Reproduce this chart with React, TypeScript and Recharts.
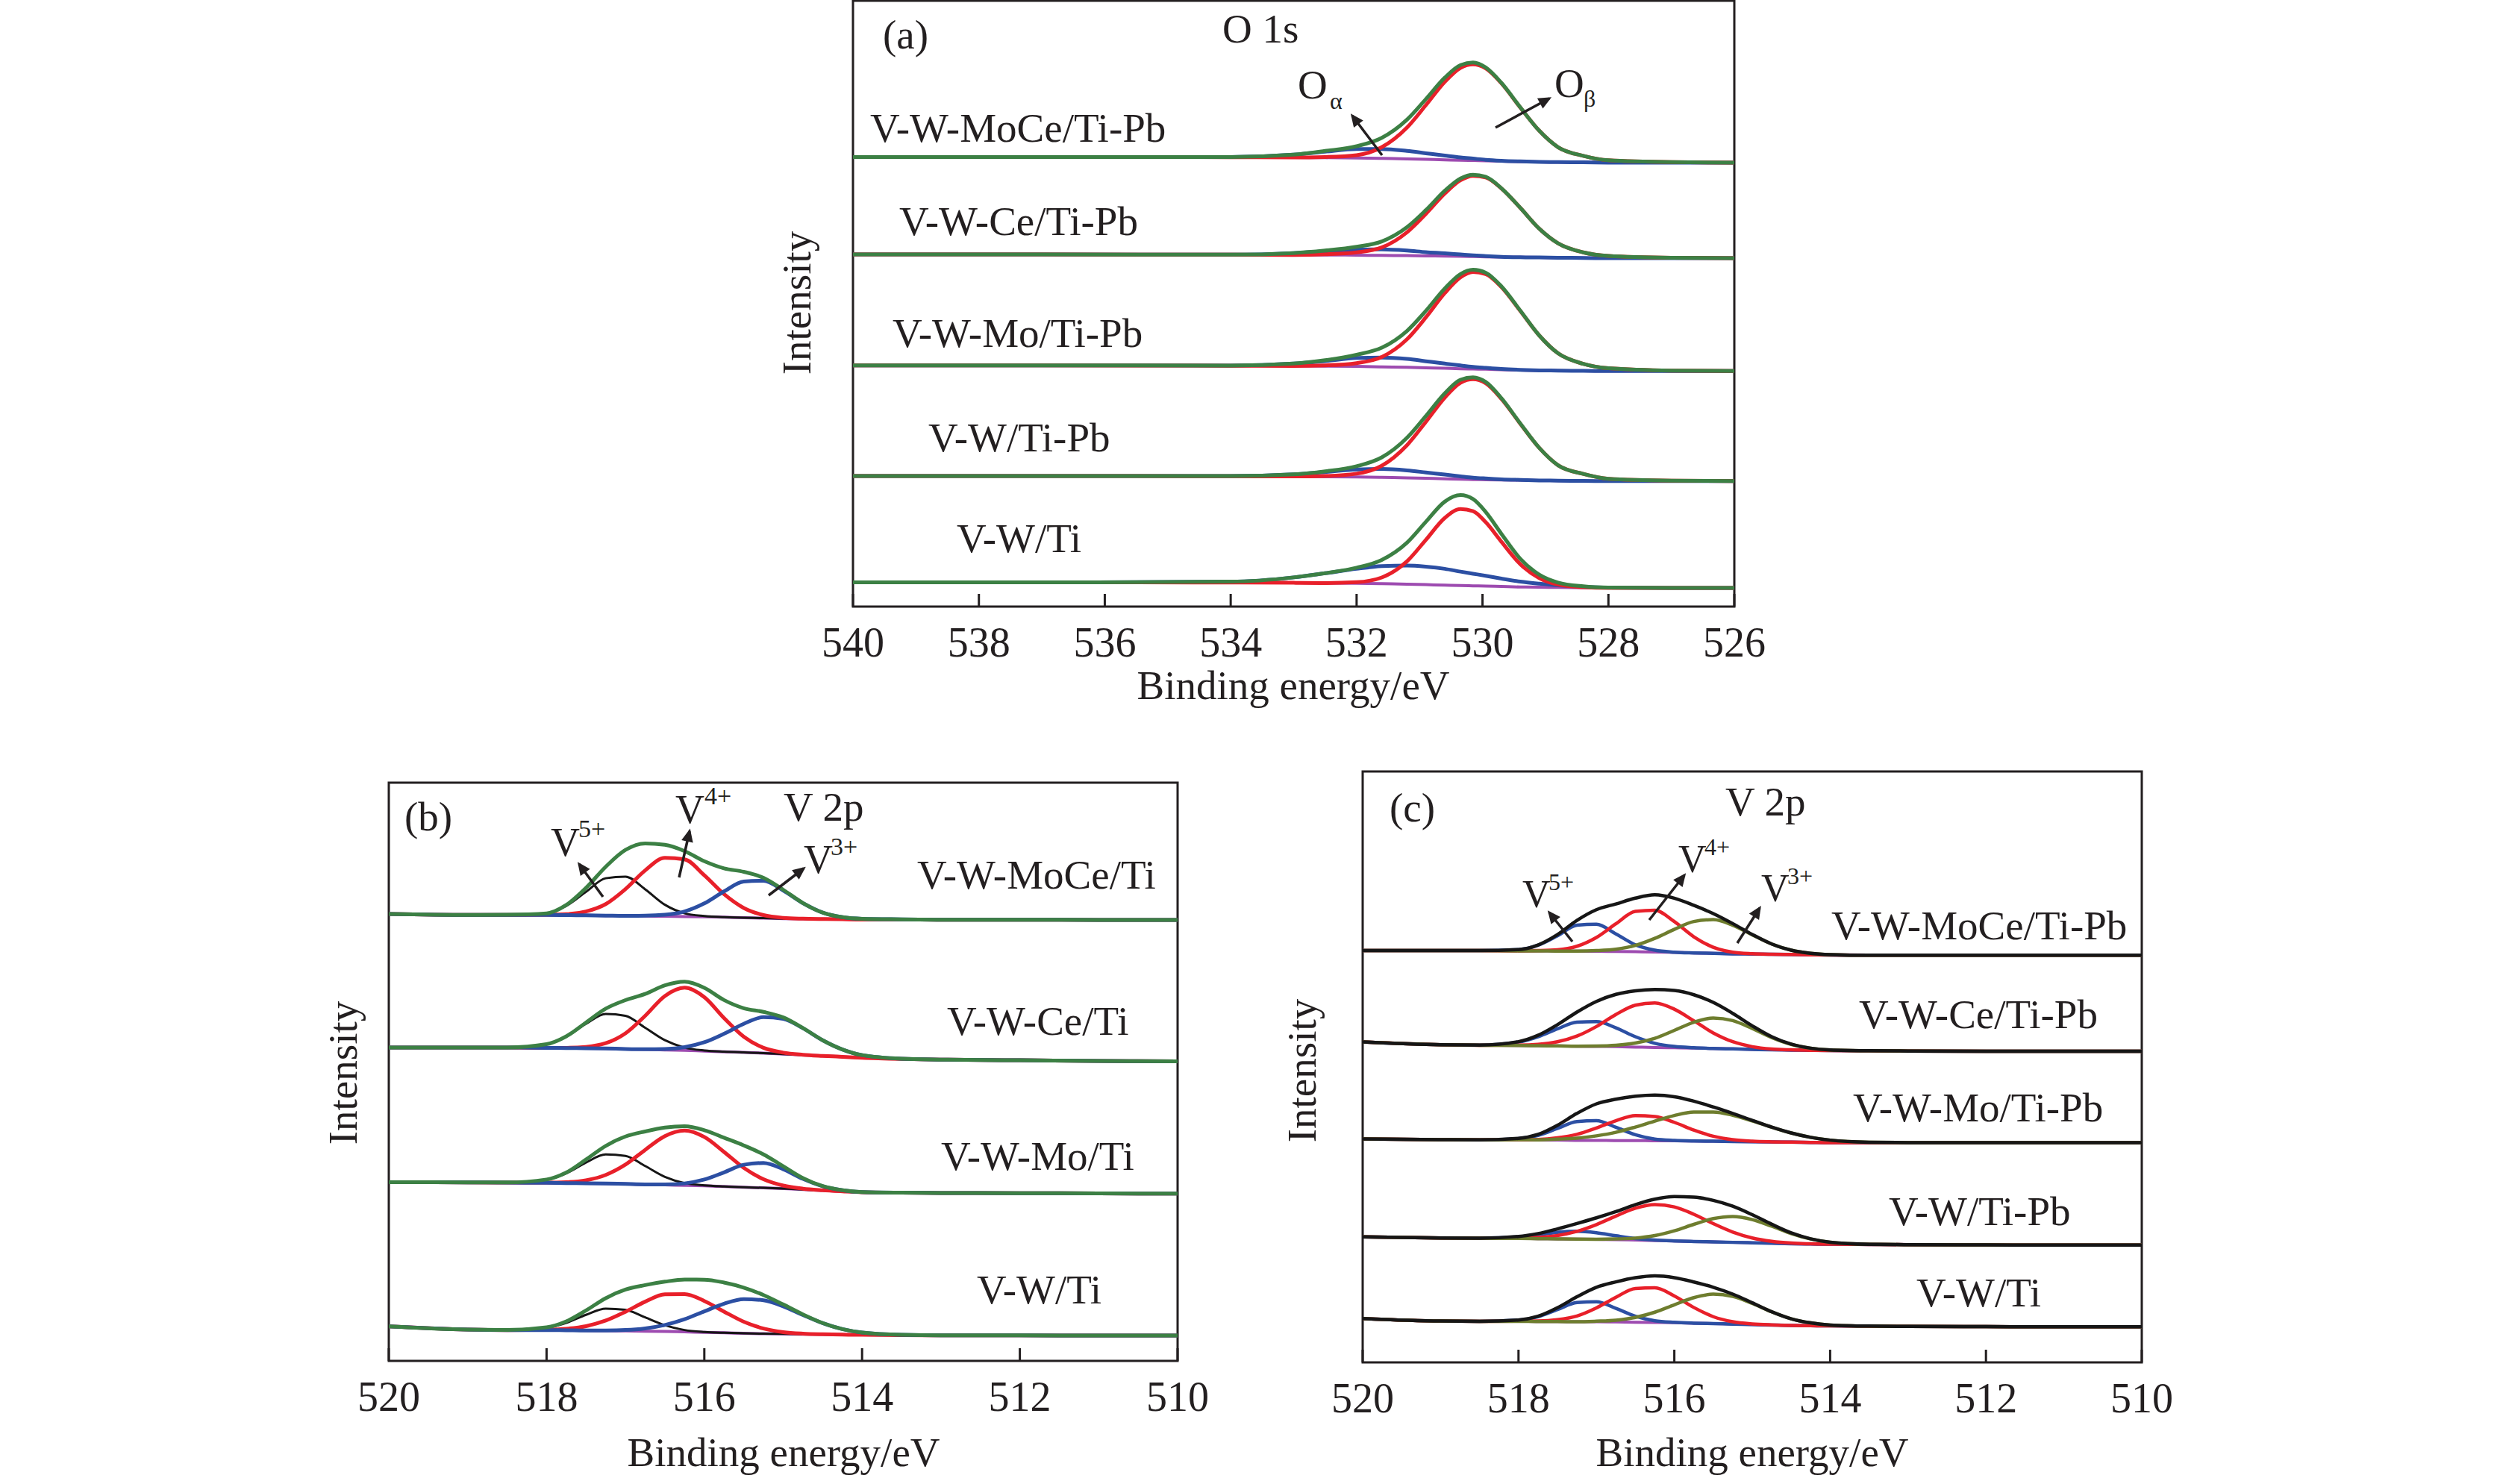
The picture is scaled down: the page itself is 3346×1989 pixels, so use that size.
import React from "react";
import { LineChart, Line, XAxis, YAxis, ReferenceArea } from "recharts";

const FONT = "'Liberation Serif', 'Times New Roman', serif";
const INK = "#231f20";
const GREEN = "#3c8044";
const RED = "#e8202a";
const BLUE = "#2c4fa3";
const PURPLE = "#9d4bb0";
const BLACK = "#161616";
const OLIVE = "#6e7d2e";

// binding energy grids (eV)
const energyO1s = [540, 537, 534, 533, 532.5, 532, 531.6, 531.2, 530.9, 530.6, 530.35, 530.15, 529.95, 529.7, 529.4, 529.1, 528.8, 528.4, 528, 527, 526];
const energyV2p = [520, 519, 518.5, 518, 517.75, 517.5, 517.25, 517, 516.75, 516.5, 516.25, 516, 515.75, 515.5, 515.25, 515, 514.75, 514.5, 514.25, 514, 513.5, 513, 512, 511, 510];

const ticksO1s = [540, 538, 536, 534, 532, 530, 528, 526];
const ticksV2p = [520, 518, 516, 514, 512, 510];

const namesA = ["V-W-MoCe/Ti-Pb", "V-W-Ce/Ti-Pb", "V-W-Mo/Ti-Pb", "V-W/Ti-Pb", "V-W/Ti"];
const namesB = ["V-W-MoCe/Ti", "V-W-Ce/Ti", "V-W-Mo/Ti", "V-W/Ti"];
const namesC = ["V-W-MoCe/Ti-Pb", "V-W-Ce/Ti-Pb", "V-W-Mo/Ti-Pb", "V-W/Ti-Pb", "V-W/Ti"];

// (a) O 1s : baselines (stacked, a.u.) and fitted peaks (height above baseline)
const aMoCeBase = [964, 964, 963.5, 963, 962.5, 962, 961, 960, 959, 958, 957, 956.5, 956, 955, 954, 953.5, 953, 952.5, 952, 952, 952];
const aMoCeObeta = [0, 0, 0, 0, 1.5, 6, 24, 67, 116, 167, 198, 206, 198, 167, 116, 67, 32, 14, 5, 1, 0];
const aMoCeOalpha = [0, 0, 0.5, 6, 13, 19, 20, 17, 13, 9, 6, 4, 2, 1, 0.5, 0, 0, 0, 0, 0, 0];

const aCeBase = [755, 755, 754.5, 754, 754, 753.5, 753, 752.5, 752, 751.5, 751, 750.5, 750, 749.5, 749, 748.5, 748, 747.5, 747, 747, 747];
const aCeObeta = [0, 0, 0, 0, 1.4, 6, 17, 50, 90, 134, 163, 173, 170, 147, 106, 62, 31, 12, 5, 1, 0];
const aCeOalpha = [0, 0, 0, 4, 8, 12, 13, 11, 8, 6, 4, 2.5, 1.5, 0.5, 0, 0, 0, 0, 0, 0, 0];

const aMoBase = [517, 517, 516.5, 516, 515.5, 515, 514, 513, 512, 511, 510, 509.5, 509, 508, 507, 506.5, 506, 505.5, 505, 505, 505];
const aMoObeta = [0, 0, 0, 0, 1.7, 7, 21, 60, 108, 161, 196, 208, 204, 177, 127, 75, 37, 15, 6, 1, 0];
const aMoOalpha = [0, 0, 0.4, 5, 11, 18, 20, 18, 14, 10, 7, 4.6, 3, 1.6, 0.7, 0, 0, 0, 0, 0, 0];

const aWPbBase = [280, 280, 279.5, 279, 278.5, 278, 277, 276, 275, 274, 273, 272.5, 272, 271.5, 271, 270.5, 270, 269.5, 269, 269, 269];
const aWPbObeta = [0, 0, 0, 0, 1.5, 7, 25, 70, 121, 174, 207, 215, 207, 174, 121, 70, 33, 15, 5, 1, 0];
const aWPbOalpha = [0, 0, 0.4, 4.5, 10, 16, 18, 16, 12.6, 9, 6.3, 4, 2.7, 1.4, 0.6, 0, 0, 0, 0, 0, 0];

const aWBase = [52, 52, 51.5, 51, 50.5, 50, 49, 48, 47, 46, 45, 44.5, 44, 43, 42, 41.5, 41, 40.5, 40, 40, 40];
const aWObeta = [0, 0, 0, 0, 0, 2.3, 13.4, 49, 96, 144, 164, 160, 137, 96, 49, 19.5, 6, 1, 0, 0, 0];
const aWOalpha = [0, 0, 2, 11.6, 21, 31, 37.6, 40, 38.7, 35, 30, 26, 22, 17, 11.6, 7.6, 4.5, 2, 0.8, 0, 0];

// (b) V 2p, catalysts without Pb
const bMoCeBase = [970, 968, 968, 968, 967.5, 967, 966.5, 966, 965.5, 965, 964.5, 964, 963, 962, 961, 960, 959.5, 959, 958.5, 958, 958, 957.5, 957.5, 957, 957];
const bMoCeV5 = [0, 0, 0.5, 3, 20, 51, 81, 85, 58, 25, 7, 1.5, 0, 0, 0, 0, 0, 0, 0, 0, 0, 0, 0, 0, 0];
const bMoCeV4 = [0, 0, 0, 0.4, 2, 8.5, 25, 58, 99, 127, 124, 90, 50, 21, 6.5, 1.6, 0.3, 0, 0, 0, 0, 0, 0, 0, 0];
const bMoCeV3 = [0, 0, 0, 0, 0, 0, 0, 0, 0.7, 3.2, 11, 29, 56, 78.5, 81, 61, 34, 14, 4.5, 1.5, 0.3, 0, 0, 0, 0];

const bCeBase = [680, 680, 680, 679.5, 679, 678.5, 678, 677, 676, 675, 674, 672.5, 671, 669.5, 668, 666, 664, 662, 660, 658, 655.5, 654, 652.5, 651, 650];
const bCeV5 = [0, 0, 0.3, 8, 25, 53, 75, 72, 47, 21, 6, 1.3, 0.2, 0, 0, 0, 0, 0, 0, 0, 0, 0, 0, 0, 0];
const bCeV4 = [0, 0, 0, 0, 0.5, 3, 11.5, 34, 73, 117, 136, 117, 73, 34, 11.5, 3, 0.5, 0, 0, 0, 0, 0, 0, 0, 0];
const bCeV3 = [0, 0, 0, 0, 0, 0, 0, 0, 0.5, 2, 7, 19, 39, 62, 78, 76.5, 58, 34, 16, 5.7, 0.4, 0, 0, 0, 0];

const bMoBase = [388, 387.5, 387, 386.5, 386, 385.5, 385, 384, 383, 382, 381, 380, 378.5, 377, 375.5, 374, 372, 370, 368, 366, 365, 364.5, 364, 363.5, 363];
const bMoV5 = [0, 0, 0.25, 6.8, 21, 45, 63, 61, 40, 17.5, 5, 1.1, 0.2, 0, 0, 0, 0, 0, 0, 0, 0, 0, 0, 0, 0];
const bMoV4 = [0, 0, 0, 0.4, 1.8, 6.5, 18.7, 42, 75, 106, 119, 106, 75, 42, 18.7, 6.5, 1.8, 0.4, 0, 0, 0, 0, 0, 0, 0];
const bMoV3 = [0, 0, 0, 0, 0, 0, 0, 0, 0, 0.9, 4.2, 13.6, 30.7, 48.7, 54, 42, 23, 9, 2.4, 0.4, 0, 0, 0, 0, 0];

const bWBase = [75, 68, 67, 67, 66.5, 66, 65.5, 65, 64.5, 64, 63, 62, 61, 60, 59, 58.5, 58, 57.5, 57, 56.5, 56, 55.5, 55.5, 55, 55];
const bWV5 = [0, 0, 0.2, 5, 16, 34, 48, 46, 30, 13.5, 4, 0.8, 0, 0, 0, 0, 0, 0, 0, 0, 0, 0, 0, 0, 0];
const bWV4 = [0, 0, 0, 0.9, 3.3, 9.4, 22, 41.6, 64, 80.4, 82, 68, 46, 25, 11.3, 4, 1.2, 0.3, 0, 0, 0, 0, 0, 0, 0];
const bWV3 = [0, 0, 0, 0, 0, 0, 0.65, 2.1, 6, 14, 27.5, 45.5, 63, 74, 72.7, 60, 41.7, 24.4, 12, 5, 0.5, 0, 0, 0, 0];

// (c) V 2p, Pb-poisoned catalysts
const cMoCeBase = [892, 892, 892, 891.5, 891.5, 891, 891, 890.5, 890, 889.5, 889, 888, 887, 886, 885, 884.5, 884, 883.5, 883, 882.5, 882, 882, 882, 882, 882];
const cMoCeV5 = [0, 0, 0, 2.7, 12, 33, 56, 58.6, 38, 15, 3.8, 0.6, 0, 0, 0, 0, 0, 0, 0, 0, 0, 0, 0, 0, 0];
const cMoCeV4 = [0, 0, 0, 0, 0.5, 2.6, 10.4, 30, 60, 87.4, 90.5, 66.8, 35, 13.2, 3.5, 0.7, 0, 0, 0, 0, 0, 0, 0, 0, 0];
const cMoCeV3 = [0, 0, 0, 0, 0, 0, 0, 1.5, 5, 13.7, 29.5, 50, 68, 73, 62, 41.7, 22.3, 9.5, 3.2, 0.9, 0, 0, 0, 0, 0];

const cCeBase = [694, 688, 687, 686.5, 686, 685.5, 685, 684.5, 684, 683, 682, 681.5, 681, 680, 679, 678, 677, 676.5, 676, 675.5, 675, 674.5, 674, 674, 674];
const cCeV5 = [0, 0, 0.4, 7.4, 19.4, 37, 52, 53.6, 40.7, 22.5, 9.2, 2.8, 0.6, 0, 0, 0, 0, 0, 0, 0, 0, 0, 0, 0, 0];
const cCeV4 = [0, 0, 0, 0.8, 3, 9, 21.8, 43, 69.5, 90.8, 96.6, 83.6, 59, 33.7, 15.7, 5.9, 1.8, 0.5, 0, 0, 0, 0, 0, 0, 0];
const cCeV3 = [0, 0, 0, 0, 0, 0, 0, 0.8, 2.9, 8.6, 20, 37.7, 55.8, 66, 61.3, 45.3, 26.7, 12.4, 4.6, 1.3, 0, 0, 0, 0, 0];

const cMoBase = [484, 482.5, 482, 482, 481.5, 481.5, 481, 481, 480.5, 480.5, 480, 480, 479.5, 479, 478.5, 478, 477.5, 477, 476.5, 476, 476, 476, 476, 476, 476];
const cMoV5 = [0, 0, 0, 2.7, 10.2, 25.3, 40.7, 42.5, 28.8, 12.7, 3.6, 0.7, 0, 0, 0, 0, 0, 0, 0, 0, 0, 0, 0, 0, 0];
const cMoV4 = [0, 0, 0, 0.3, 1.4, 4.9, 13, 26.8, 42.9, 53.9, 52.6, 40, 23.7, 10.9, 3.9, 1.1, 0.2, 0, 0, 0, 0, 0, 0, 0, 0];
const cMoV3 = [0, 0, 0, 0.3, 0.7, 2, 4.6, 9.7, 17.9, 29.3, 42.6, 54.8, 62.7, 63.4, 56.9, 45.2, 31.9, 19.9, 11, 5.4, 0.9, 0.1, 0, 0, 0];

const cWPbBase = [272, 269.5, 269, 268.5, 268, 267.5, 267, 266.5, 266, 265, 264, 263, 262, 261, 260, 259, 258, 257, 256.5, 256, 255.5, 255, 254.5, 254, 254];
const cWPbV5 = [0, 0, 0.2, 3.4, 8.3, 14.3, 17, 14.3, 8.3, 3.4, 1, 0.2, 0, 0, 0, 0, 0, 0, 0, 0, 0, 0, 0, 0, 0];
const cWPbV4 = [0, 0, 0, 0.9, 2.7, 7.4, 16.8, 32, 51, 68.8, 77.7, 73.8, 58.9, 39.5, 22.3, 10.5, 4.2, 1.4, 0.4, 0, 0, 0, 0, 0, 0];
const cWPbV3 = [0, 0, 0, 0, 0, 0, 0, 0.3, 1.3, 4.3, 10.8, 22.1, 37, 50.4, 56, 50.4, 37, 22.1, 10.8, 4.3, 0.3, 0, 0, 0, 0];

const cWBase = [95, 89.5, 89, 89, 88.5, 88.5, 88, 88, 87.5, 87, 86.5, 86, 85, 84, 83, 82, 81, 80, 79.5, 79, 78.5, 78, 77.5, 77, 77];
const cWV5 = [0, 0, 0, 2.7, 10.4, 25.9, 41.6, 43.5, 29.5, 13, 3.7, 0.7, 0, 0, 0, 0, 0, 0, 0, 0, 0, 0, 0, 0, 0];
const cWV4 = [0, 0, 0, 0.1, 1, 4, 12.5, 30, 53.5, 73, 75, 58, 34, 15, 5, 1.3, 0.2, 0, 0, 0, 0, 0, 0, 0, 0];
const cWV3 = [0, 0, 0, 0, 0, 0, 0, 1.2, 3.9, 10.4, 22.2, 38.8, 55.2, 63.7, 59.9, 45.8, 28.5, 14.4, 6, 2, 0.1, 0, 0, 0, 0];

type Comp = { values: number[]; color: string; width: number };
type Sample = { id: string; base: number[]; comps: Comp[]; env: string };

const samplesA: Sample[] = [
  { id: "a1", base: aMoCeBase, comps: [{ values: aMoCeOalpha, color: BLUE, width: 5 }, { values: aMoCeObeta, color: RED, width: 5 }], env: GREEN },
  { id: "a2", base: aCeBase, comps: [{ values: aCeOalpha, color: BLUE, width: 5 }, { values: aCeObeta, color: RED, width: 5 }], env: GREEN },
  { id: "a3", base: aMoBase, comps: [{ values: aMoOalpha, color: BLUE, width: 5 }, { values: aMoObeta, color: RED, width: 5 }], env: GREEN },
  { id: "a4", base: aWPbBase, comps: [{ values: aWPbOalpha, color: BLUE, width: 5 }, { values: aWPbObeta, color: RED, width: 5 }], env: GREEN },
  { id: "a5", base: aWBase, comps: [{ values: aWOalpha, color: BLUE, width: 5 }, { values: aWObeta, color: RED, width: 5 }], env: GREEN },
];

const samplesB: Sample[] = [
  { id: "b1", base: bMoCeBase, comps: [{ values: bMoCeV5, color: BLACK, width: 3 }, { values: bMoCeV4, color: RED, width: 5 }, { values: bMoCeV3, color: BLUE, width: 5 }], env: GREEN },
  { id: "b2", base: bCeBase, comps: [{ values: bCeV5, color: BLACK, width: 3 }, { values: bCeV4, color: RED, width: 5 }, { values: bCeV3, color: BLUE, width: 5 }], env: GREEN },
  { id: "b3", base: bMoBase, comps: [{ values: bMoV5, color: BLACK, width: 3 }, { values: bMoV4, color: RED, width: 5 }, { values: bMoV3, color: BLUE, width: 5 }], env: GREEN },
  { id: "b4", base: bWBase, comps: [{ values: bWV5, color: BLACK, width: 3 }, { values: bWV4, color: RED, width: 5 }, { values: bWV3, color: BLUE, width: 5 }], env: GREEN },
];

const samplesC: Sample[] = [
  { id: "c1", base: cMoCeBase, comps: [{ values: cMoCeV5, color: BLUE, width: 4.5 }, { values: cMoCeV4, color: RED, width: 4.5 }, { values: cMoCeV3, color: OLIVE, width: 4.5 }], env: BLACK },
  { id: "c2", base: cCeBase, comps: [{ values: cCeV5, color: BLUE, width: 4.5 }, { values: cCeV4, color: RED, width: 4.5 }, { values: cCeV3, color: OLIVE, width: 4.5 }], env: BLACK },
  { id: "c3", base: cMoBase, comps: [{ values: cMoV5, color: BLUE, width: 4.5 }, { values: cMoV4, color: RED, width: 4.5 }, { values: cMoV3, color: OLIVE, width: 4.5 }], env: BLACK },
  { id: "c4", base: cWPbBase, comps: [{ values: cWPbV5, color: BLUE, width: 4.5 }, { values: cWPbV4, color: RED, width: 4.5 }, { values: cWPbV3, color: OLIVE, width: 4.5 }], env: BLACK },
  { id: "c5", base: cWBase, comps: [{ values: cWV5, color: BLUE, width: 4.5 }, { values: cWV4, color: RED, width: 4.5 }, { values: cWV3, color: OLIVE, width: 4.5 }], env: BLACK },
];

// peaks sit on their sample's baseline; the envelope is the fitted sum
function buildRows(grid: number[], samples: Sample[]) {
  return grid.map((x, i) => {
    const row: Record<string, number> = { x };
    for (const s of samples) {
      const b = s.base[i];
      let total = b;
      row[s.id + "_base"] = b;
      s.comps.forEach((c, k) => {
        row[`${s.id}_c${k}`] = b + c.values[i];
        total += c.values[i];
      });
      row[s.id + "_env"] = total;
    }
    return row;
  });
}

// inward tick mark plus label under the axis
const EnergyTick = (props: any) => {
  const { x, y, payload } = props;
  return (
    <g>
      <line x1={x} y1={y} x2={x} y2={y - 17} stroke={INK} strokeWidth={3} />
      <text x={x} y={y + 67} textAnchor="middle" fontFamily={FONT} fontSize={56} fill={INK}>
        {payload.value}
      </text>
    </g>
  );
};

type PanelProps = {
  left: number;
  top: number;
  width: number;
  height: number;
  margin: { top: number; right: number; bottom: number; left: number };
  grid: number[];
  domain: [number, number];
  ticks: number[];
  yMax: number;
  samples: Sample[];
  envWidth: number;
  baseWidth: number;
};

const SpectrumPanel = ({ left, top, width, height, margin, grid, domain, ticks, yMax, samples, envWidth, baseWidth }: PanelProps) => {
  const rows = buildRows(grid, samples);
  const lines: React.ReactNode[] = [];
  samples.forEach((s) => {
    lines.push(
      <Line key={s.id + "_base"} type="monotone" dataKey={s.id + "_base"} stroke={PURPLE} strokeWidth={baseWidth} dot={false} activeDot={false} isAnimationActive={false} />
    );
    s.comps.forEach((c, k) => {
      lines.push(
        <Line key={`${s.id}_c${k}`} type="monotone" dataKey={`${s.id}_c${k}`} stroke={c.color} strokeWidth={c.width} dot={false} activeDot={false} isAnimationActive={false} />
      );
    });
    lines.push(
      <Line key={s.id + "_env"} type="monotone" dataKey={s.id + "_env"} stroke={s.env} strokeWidth={envWidth} dot={false} activeDot={false} isAnimationActive={false} />
    );
  });
  return (
    <div style={{ position: "absolute", left, top }}>
      <LineChart width={width} height={height} data={rows} margin={margin}>
        <XAxis
          dataKey="x"
          type="number"
          domain={domain}
          reversed
          ticks={ticks}
          interval={0}
          height={1}
          tickSize={0}
          tickMargin={0}
          axisLine={false}
          tickLine={false}
          tick={(p: any) => <EnergyTick {...p} />}
          allowDataOverflow
        />
        <YAxis type="number" domain={[0, yMax]} hide allowDataOverflow />
        <ReferenceArea x1={domain[0]} x2={domain[1]} y1={0} y2={yMax} fill="none" stroke={INK} strokeWidth={3} ifOverflow="visible" />
        {lines}
      </LineChart>
    </div>
  );
};

const T = ({ x, y, size = 55, anchor = "start", children }: { x: number; y: number; size?: number; anchor?: string; children: React.ReactNode }) => (
  <text x={x} y={y} fontSize={size} textAnchor={anchor as any} fontFamily={FONT} fill={INK}>
    {children}
  </text>
);

const Arrow = ({ x1, y1, x2, y2 }: { x1: number; y1: number; x2: number; y2: number }) => (
  <line x1={x1} y1={y1} x2={x2} y2={y2} stroke={INK} strokeWidth={3.5} markerEnd="url(#arrowHead)" />
);

const Annotations = () => {
  const labelPosA = [[1166, 190], [1205, 315], [1196, 465], [1244, 605], [1282, 740]];
  const labelPosB = [[1229, 1191], [1269, 1387], [1261, 1568], [1309, 1747]];
  const labelPosC = [[2454, 1259], [2491, 1378], [2483, 1503], [2531, 1642], [2568, 1751]];
  return (
    <svg width={3346} height={1989} style={{ position: "absolute", left: 0, top: 0, pointerEvents: "none" }}>
      <defs>
        <marker id="arrowHead" viewBox="0 0 10 10" refX="8" refY="5" markerWidth="6" markerHeight="5" orient="auto">
          <path d="M0,0.5 L10,5 L0,9.5 z" fill={INK} />
        </marker>
      </defs>

      {/* panel (a) */}
      <T x={1183} y={65}>(a)</T>
      <T x={1638} y={57}>O 1s</T>
      <T x={1739} y={132}>O</T>
      <T x={1782} y={146} size={32}>α</T>
      <T x={2083} y={130}>O</T>
      <T x={2122} y={143} size={32}>β</T>
      <Arrow x1={1852} y1={208} x2={1812} y2={155} />
      <Arrow x1={2004} y1={171} x2={2076} y2={132} />
      {namesA.map((n, i) => (
        <T key={n + i} x={labelPosA[i][0]} y={labelPosA[i][1]}>{n}</T>
      ))}
      <text x={1086} y={406} transform="rotate(-90 1086 406)" fontSize={55} textAnchor="middle" fontFamily={FONT} fill={INK}>Intensity</text>
      <T x={1733} y={937} anchor="middle">Binding energy/eV</T>

      {/* panel (b) */}
      <T x={542} y={1113}>(b)</T>
      <T x={1050} y={1100}>V 2p</T>
      <T x={738} y={1147} size={54}>V</T>
      <T x={775} y={1122} size={34}>5+</T>
      <T x={905} y={1103} size={54}>V</T>
      <T x={944} y={1078} size={34}>4+</T>
      <T x={1077} y={1170} size={54}>V</T>
      <T x={1113} y={1146} size={34}>3+</T>
      <Arrow x1={808} y1={1202} x2={776} y2={1158} />
      <Arrow x1={910} y1={1176} x2={924} y2={1114} />
      <Arrow x1={1030} y1={1200} x2={1077} y2={1164} />
      {namesB.map((n, i) => (
        <T key={n + i} x={labelPosB[i][0]} y={labelPosB[i][1]}>{n}</T>
      ))}
      <text x={478} y={1438} transform="rotate(-90 478 1438)" fontSize={55} textAnchor="middle" fontFamily={FONT} fill={INK}>Intensity</text>
      <T x={1050} y={1965} anchor="middle">Binding energy/eV</T>

      {/* panel (c) */}
      <T x={1862} y={1101}>(c)</T>
      <T x={2312} y={1093}>V 2p</T>
      <T x={2040} y={1216} size={52}>V</T>
      <T x={2075} y={1193} size={32}>5+</T>
      <T x={2249} y={1169} size={52}>V</T>
      <T x={2284} y={1146} size={32}>4+</T>
      <T x={2360} y={1208} size={52}>V</T>
      <T x={2395} y={1185} size={32}>3+</T>
      <Arrow x1={2107} y1={1262} x2={2076} y2={1223} />
      <Arrow x1={2210} y1={1233} x2={2257} y2={1173} />
      <Arrow x1={2328} y1={1264} x2={2358} y2={1217} />
      {namesC.map((n, i) => (
        <T key={n + i} x={labelPosC[i][0]} y={labelPosC[i][1]}>{n}</T>
      ))}
      <text x={1763} y={1435} transform="rotate(-90 1763 1435)" fontSize={55} textAnchor="middle" fontFamily={FONT} fill={INK}>Intensity</text>
      <T x={2348} y={1965} anchor="middle">Binding energy/eV</T>
    </svg>
  );
};

export default function App() {
  return (
    <div style={{ position: "absolute", left: 0, top: 0, width: 3346, height: 1989, background: "#fff", overflow: "hidden" }}>
      <SpectrumPanel
        left={1000}
        top={0}
        width={1400}
        height={990}
        margin={{ top: 1, right: 76, bottom: 176, left: 143 }}
        grid={energyO1s}
        domain={[526, 540]}
        ticks={ticksO1s}
        yMax={1299}
        samples={samplesA}
        envWidth={5}
        baseWidth={4}
      />
      <SpectrumPanel
        left={380}
        top={1000}
        width={1260}
        height={989}
        margin={{ top: 49, right: 62, bottom: 164, left: 141 }}
        grid={energyV2p}
        domain={[510, 520]}
        ticks={ticksV2p}
        yMax={1255}
        samples={samplesB}
        envWidth={5}
        baseWidth={4}
      />
      <SpectrumPanel
        left={1680}
        top={1000}
        width={1260}
        height={989}
        margin={{ top: 34, right: 70, bottom: 162, left: 146 }}
        grid={energyV2p}
        domain={[510, 520]}
        ticks={ticksV2p}
        yMax={1280}
        samples={samplesC}
        envWidth={4.5}
        baseWidth={4}
      />
      <Annotations />
    </div>
  );
}
